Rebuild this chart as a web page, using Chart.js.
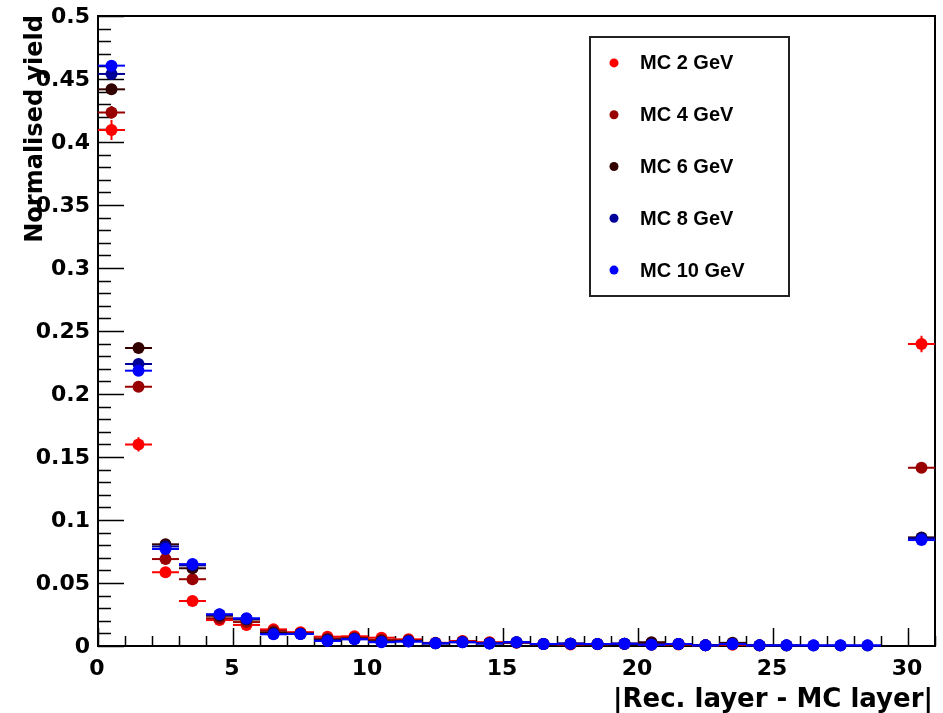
<!DOCTYPE html>
<html>
<head>
<meta charset="utf-8">
<script src="https://cdn.jsdelivr.net/npm/chart.js@4/dist/chart.umd.min.js"></script>
<style>
  html, body { margin: 0; padding: 0; background: #ffffff; }
  canvas { display: block; }
</style>
</head>
<body>
<canvas id="c" width="943" height="713"></canvas>
<script>
// Bin centres of |Rec. layer - MC layer| (unit-width bins, last bin collects the rest)
const binCenters = [0.5, 1.5, 2.5, 3.5, 4.5, 5.5, 6.5, 7.5, 8.5, 9.5,
                    10.5, 11.5, 12.5, 13.5, 14.5, 15.5, 16.5, 17.5, 18.5, 19.5,
                    20.5, 21.5, 22.5, 23.5, 24.5, 25.5, 26.5, 27.5, 28.5, 29.5, 30.5];
const binHalfWidth = 0.5;

const seriesNames = ['MC 2 GeV', 'MC 4 GeV', 'MC 6 GeV', 'MC 8 GeV', 'MC 10 GeV'];
const seriesColors = ['#ff0000', '#990000', '#330000', '#000099', '#0000ff'];

// Normalised yields per bin (null = empty bin)
const yield2GeV = [0.4095, 0.160, 0.0585, 0.0357, 0.0206, 0.0167, 0.0132, 0.0110, 0.0074, 0.0077,
                   0.0066, 0.0053, 0.0025, 0.0040, 0.0030, 0.0028, 0.0015, 0.0012, 0.0014, 0.0015,
                   0.0010, 0.0012, 0.0005, 0.0010, null, null, null, null, null, null, 0.2397];
const yield4GeV = [0.4235, 0.2058, 0.0690, 0.0530, 0.0220, 0.0190, 0.0120, 0.0100, 0.0060, 0.0065,
                   0.0050, 0.0045, 0.0022, 0.0035, 0.0025, 0.0025, 0.0015, 0.0015, 0.0015, 0.0018,
                   0.0020, 0.0015, 0.0005, 0.0015, 0.0004, null, null, null, null, null, 0.1415];
const yield6GeV = [0.4418, 0.2365, 0.0807, 0.0617, 0.0240, 0.0210, 0.0105, 0.0098, 0.0050, 0.0058,
                   0.0038, 0.0040, 0.0022, 0.0032, 0.0022, 0.0030, 0.0015, 0.0020, 0.0016, 0.0018,
                   0.0030, 0.0016, 0.0006, 0.0025, 0.0005, 0.0004, null, null, null, null, 0.0862];
const yield8GeV = [0.4540, 0.2238, 0.0790, 0.0640, 0.0250, 0.0215, 0.0095, 0.0096, 0.0045, 0.0055,
                   0.0033, 0.0037, 0.0021, 0.0030, 0.0020, 0.0030, 0.0016, 0.0018, 0.0016, 0.0018,
                   0.0012, 0.0016, 0.0005, 0.0016, 0.0005, 0.0005, 0.0004, 0.0004, 0.0003, null, 0.0855];
const yield10GeV = [0.4606, 0.2185, 0.0770, 0.0650, 0.0251, 0.0220, 0.0093, 0.0095, 0.0040, 0.0053,
                    0.0030, 0.0035, 0.0021, 0.0030, 0.0020, 0.0030, 0.0016, 0.0018, 0.0016, 0.0018,
                    0.0010, 0.0016, 0.0005, 0.0016, 0.0005, 0.0005, 0.0005, 0.0005, 0.0005, null, 0.0841];

// Statistical errors on the yields (only the ones larger than a marker)
const err2GeV = [0.008, 0.0057, 0.003, 0.002, 0, 0, 0, 0, 0, 0,
                 0, 0, 0, 0, 0, 0, 0, 0, 0, 0,
                 0, 0, 0, 0, 0, 0, 0, 0, 0, 0, 0.0066];
const err4GeV = [0.005, 0.004, 0, 0, 0, 0, 0, 0, 0, 0,
                 0, 0, 0, 0, 0, 0, 0, 0, 0, 0,
                 0, 0, 0, 0, 0, 0, 0, 0, 0, 0, 0.004];

const xTickLabels = ['0', '5', '10', '15', '20', '25', '30'];
const yTickLabels = ['0', '0.05', '0.1', '0.15', '0.2', '0.25', '0.3', '0.35', '0.4', '0.45', '0.5'];

const xTitle = '|Rec. layer - MC layer|';
const yTitle = 'Normalised yield';

const allYields = [yield2GeV, yield4GeV, yield6GeV, yield8GeV, yield10GeV];
const allErrors = [err2GeV, err4GeV, null, null, null];

const AXIS_FONT = '"DejaVu Sans", "Liberation Sans", sans-serif';
const LEGEND_FONT = '"Liberation Sans", Arial, sans-serif';

const datasets = allYields.map((vals, k) => {
  const pts = [];
  vals.forEach((v, i) => {
    if (v !== null) pts.push({ x: binCenters[i], y: v, e: allErrors[k] ? allErrors[k][i] : 0 });
  });
  return {
    label: seriesNames[k],
    data: pts,
    backgroundColor: seriesColors[k],
    borderColor: seriesColors[k],
    pointRadius: 6,
    pointHoverRadius: 6,
    pointBorderWidth: 0,
    pointStyle: 'circle',
    showLine: false,
    clip: false,
    // later energies drawn on top
    order: seriesNames.length - k
  };
});

// Horizontal bin-width bars and vertical error bars, drawn just under each dataset's markers
const errorBars = {
  id: 'errorBars',
  beforeDatasetDraw(chart, args) {
    const ctx = chart.ctx;
    const xs = chart.scales.x, ys = chart.scales.y;
    const ds = chart.data.datasets[args.index];
    ctx.save();
    ctx.strokeStyle = ds.borderColor;
    ctx.lineWidth = 2;
    ds.data.forEach(p => {
      const py = ys.getPixelForValue(p.y);
      const x0 = xs.getPixelForValue(Math.max(0, p.x - binHalfWidth));
      const x1 = xs.getPixelForValue(p.x + binHalfWidth);
      const px = xs.getPixelForValue(p.x);
      ctx.beginPath();
      ctx.moveTo(x0, py);
      ctx.lineTo(x1, py);
      if (p.e > 0) {
        ctx.moveTo(px, ys.getPixelForValue(p.y - p.e));
        ctx.lineTo(px, ys.getPixelForValue(p.y + p.e));
      }
      ctx.stroke();
    });
    ctx.restore();
  }
};

// Frame with inward ticks, tick labels, axis titles and the legend box
const frameAndText = {
  id: 'frameAndText',
  beforeDatasetsDraw(chart) {
    const ctx = chart.ctx;
    const a = chart.chartArea;
    const xs = chart.scales.x, ys = chart.scales.y;
    ctx.save();
    ctx.strokeStyle = '#000';
    ctx.lineWidth = 2;
    ctx.strokeRect(a.left, a.top, a.right - a.left, a.bottom - a.top);

    ctx.lineWidth = 1.5;
    ctx.beginPath();
    // x ticks: major every 5, minor every 1
    for (let v = 0; v <= xs.max; v += 1) {
      const px = Math.round(xs.getPixelForValue(v)) + 0.5;
      const len = (v % 5 === 0) ? 18 : 10;
      ctx.moveTo(px, a.bottom);
      ctx.lineTo(px, a.bottom - len);
    }
    // y ticks: major every 0.05, minor every 0.01
    for (let i = 0; i <= 50; i++) {
      const py = Math.round(ys.getPixelForValue(i / 100)) + 0.5;
      const len = (i % 5 === 0) ? 26 : 13;
      ctx.moveTo(a.left, py);
      ctx.lineTo(a.left + len, py);
    }
    ctx.stroke();
    ctx.restore();
  },
  afterDraw(chart) {
    const ctx = chart.ctx;
    const a = chart.chartArea;
    const xs = chart.scales.x, ys = chart.scales.y;
    ctx.save();
    ctx.fillStyle = '#000';

    // tick labels
    ctx.font = 'bold 22px ' + AXIS_FONT;
    ctx.textAlign = 'right';
    ctx.textBaseline = 'middle';
    yTickLabels.forEach(t => {
      ctx.fillText(t, a.left - 8, ys.getPixelForValue(parseFloat(t)) + 1);
    });
    ctx.textAlign = 'center';
    ctx.textBaseline = 'alphabetic';
    xTickLabels.forEach(t => {
      ctx.fillText(t, xs.getPixelForValue(parseFloat(t)) - 1, a.bottom + 29);
    });

    // axis titles
    ctx.font = 'bold 26px ' + AXIS_FONT;
    ctx.textAlign = 'right';
    ctx.fillText(xTitle, a.right - 2, a.bottom + 61);

    ctx.font = 'bold 24px ' + AXIS_FONT;
    ctx.translate(42, 15);
    ctx.rotate(-Math.PI / 2);
    ctx.textAlign = 'right';
    ctx.textBaseline = 'alphabetic';
    ctx.fillText(yTitle, 0, 0);
    ctx.setTransform(1, 0, 0, 1, 0, 0);

    // legend
    const box = { l: 590, t: 37, r: 789, b: 296 };
    ctx.fillStyle = '#fff';
    ctx.fillRect(box.l, box.t, box.r - box.l, box.b - box.t);
    ctx.strokeStyle = '#222';
    ctx.lineWidth = 2;
    ctx.strokeRect(box.l, box.t, box.r - box.l, box.b - box.t);
    const rowH = (box.b - box.t) / seriesNames.length;
    ctx.font = 'bold 20px ' + LEGEND_FONT;
    ctx.textAlign = 'left';
    ctx.textBaseline = 'middle';
    seriesNames.forEach((name, k) => {
      const cy = box.t + rowH * (k + 0.5);
      ctx.fillStyle = seriesColors[k];
      ctx.beginPath();
      ctx.arc(614, cy, 4.5, 0, Math.PI * 2);
      ctx.fill();
      ctx.fillStyle = '#000';
      ctx.fillText(name, 640, cy + 1);
    });
    ctx.restore();
  }
};

new Chart(document.getElementById('c'), {
  type: 'scatter',
  data: { datasets },
  options: {
    responsive: false,
    animation: false,
    events: [],
    layout: { padding: { left: 98, right: 8, top: 16, bottom: 67 } },
    plugins: { legend: { display: false }, tooltip: { enabled: false } },
    scales: {
      x: { type: 'linear', min: 0, max: 31, display: false },
      y: { type: 'linear', min: 0, max: 0.5, display: false }
    }
  },
  plugins: [errorBars, frameAndText]
});
</script>
</body>
</html>
